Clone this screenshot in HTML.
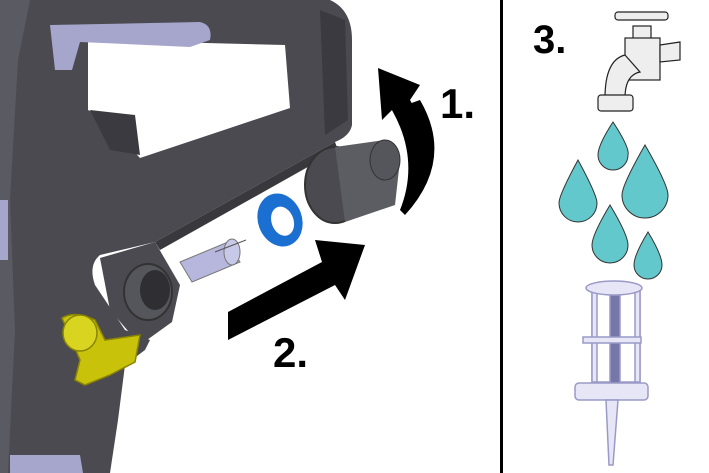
<!DOCTYPE html>
<html><head><style>body{margin:0;background:#fff}svg{display:block}</style></head><body>
<svg width="709" height="473" viewBox="0 0 709 473" xmlns="http://www.w3.org/2000/svg" font-family="Liberation Sans, sans-serif">
<rect width="709" height="473" fill="#fff"/>
<!-- handle body -->
<path d="M0,0 L330,0 Q352,10 352,40 L352,125 Q350,136 335,142 L155,242 L100,255 Q88,265 95,285 L125,330 L150,340 L145,350 L125,365 L118,420 L110,473 L0,473 Z" fill="#4a4a50"/>
<path d="M100,258 L155,242 L180,285 L172,322 L140,345 L110,310 Z" fill="#4a4a50"/>
<path d="M0,0 L30,0 L18,60 L10,200 L15,330 L8,473 L0,473Z" fill="#5a5a62"/>
<path d="M88,40 L285,45 L290,108 L140,158 L100,115 L88,110 Z" fill="#fff"/>
<path d="M90,110 L135,115 L140,155 L110,150 Z" fill="#3a3a40"/>
<path d="M50,25 L200,22 Q213,25 210,40 L190,47 L80,42 L72,70 L55,70 Z" fill="#a6a6cc"/>
<path d="M320,10 L345,20 L348,120 L325,135 Z" fill="#3a3a40"/>
<path d="M155,242 L335,142 L338,150 L160,250 Z" fill="#38383d"/>
<path d="M0,200 L8,200 L8,260 L0,260Z" fill="#a6a6cc"/>
<path d="M10,455 L80,455 L83,473 L10,473Z" fill="#a6a6cc"/>
<!-- port -->
<ellipse cx="148" cy="292" rx="24" ry="28" fill="#55555c" stroke="#333" stroke-width="2"/>
<ellipse cx="155" cy="290" rx="15" ry="20" fill="#2e2e33"/>
<!-- yellow clip -->
<path d="M62,318 Q75,310 95,320 L105,340 L140,335 L135,362 L110,375 L85,385 L75,380 L80,360 Z" fill="#c8c20a" stroke="#8a8400" stroke-width="1.5"/>
<ellipse cx="80" cy="333" rx="17" ry="18" fill="#d9d420" stroke="#8a8400" stroke-width="1.5"/>
<!-- filter small -->
<path d="M180,262 L228,242 L240,262 L192,282 Z" fill="#b7b7dd" stroke="#777" stroke-width="1"/>
<ellipse cx="232" cy="252" rx="8" ry="13" fill="#c8c8e8" stroke="#777"/>
<line x1="215" y1="252" x2="246" y2="240" stroke="#555"/>
<!-- blue ring -->
<ellipse cx="280" cy="220" rx="22" ry="27" fill="#1a6fd0" transform="rotate(-20 280 220)"/>
<ellipse cx="282" cy="222" rx="11" ry="15" fill="#fff" transform="rotate(-20 280 220)"/>
<!-- fitting -->
<ellipse cx="335" cy="185" rx="30" ry="38" fill="#4a4a50" stroke="#333" stroke-width="2"/>
<path d="M335,147 L385,140 L400,160 L395,205 L345,222 Z" fill="#5c5c63"/>
<ellipse cx="385" cy="160" rx="15" ry="20" fill="#55555c" stroke="#333"/>
<!-- arrow 2 -->
<path d="M228,312 L322,262 L315,240 L365,245 L345,300 L335,285 L228,340 Z" fill="#000"/>
<!-- arrow 1 -->
<path d="M408,205 Q440,150 410,100 L420,85 L378,68 L382,120 L392,110 Q420,160 408,205 Z" fill="#000"/>
<path d="M405,215 Q455,160 420,100 L392,110 Q420,160 400,210 Z" fill="#000"/>
<text x="440" y="118" font-size="42" font-weight="bold">1.</text>
<text x="273" y="367" font-size="42" font-weight="bold">2.</text>
<!-- divider -->
<rect x="500" y="0" width="3" height="473" fill="#000"/>
<text x="533" y="53" font-size="40" font-weight="bold">3.</text>
<!-- faucet -->
<g fill="#eee" stroke="#222" stroke-width="1.2">
<rect x="615" y="12" width="53" height="8" rx="3"/>
<rect x="633" y="26" width="18" height="14"/>
<rect x="625" y="38" width="35" height="42"/>
<path d="M660,45 L680,42 L680,60 L660,62Z"/>
<path d="M625,55 Q605,60 605,98 L625,98 Q625,75 640,72 Z"/>
<rect x="598" y="95" width="35" height="16" rx="3"/>
</g>
<!-- drops -->
<g fill="#62c8cc" stroke="#333" stroke-width="1">
<path d="M613,122 Q630,148 628,155 A15,15 0 0 1 598,155 Q598,145 613,122Z"/>
<path d="M578,160 Q597,195 597,203 A19,19 0 0 1 559,203 Q559,195 578,160Z"/>
<path d="M645,145 Q668,185 668,195 A23,23 0 0 1 622,195 Q622,185 645,145Z"/>
<path d="M610,205 Q628,235 628,245 A18,18 0 0 1 592,245 Q592,235 610,205Z"/>
<path d="M648,232 Q662,255 662,265 A14,14 0 0 1 634,265 Q634,255 648,232Z"/>
</g>
<!-- filter large -->
<g fill="#e6e6f7" stroke="#9a9ac8" stroke-width="1.5">
<rect x="592" y="290" width="48" height="92" fill="#fff"/>
<rect x="592" y="290" width="5" height="92"/>
<rect x="635" y="290" width="5" height="92"/>
<rect x="610" y="295" width="10" height="90" fill="#7676a8"/>
<rect x="583" y="337" width="58" height="6"/>
<ellipse cx="614" cy="288" rx="28" ry="7"/>
<rect x="575" y="383" width="73" height="17" rx="4"/>
<path d="M606,400 L618,400 L613,465 L609,465 Z"/>
</g>
</svg>
</body></html>
